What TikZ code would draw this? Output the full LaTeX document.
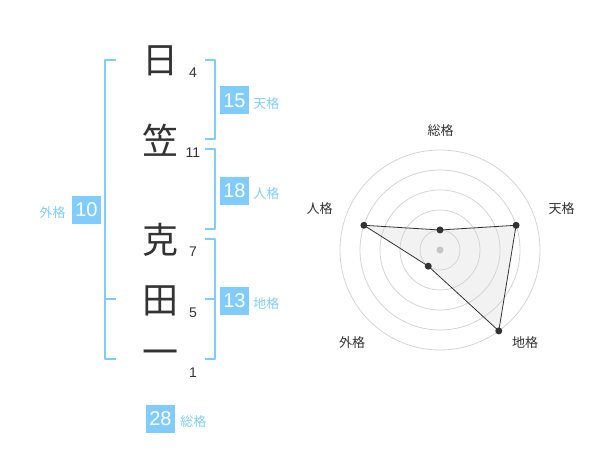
\documentclass[tikz,border=0pt]{standalone}
\usepackage{fontspec}
\setmainfont{Liberation Sans}
\newfontfamily\cjk{Noto Sans CJK JP}
\usetikzlibrary{positioning}
\definecolor{kakublue}{RGB}{128,204,255}
\definecolor{ink}{RGB}{51,51,51}
\definecolor{ringgray}{RGB}{212,212,212}
\definecolor{areagray}{RGB}{242,242,242}
\begin{document}
\begin{tikzpicture}[x=1pt, y=-1pt, line join=round,
	kanji/.style={font=\cjk\fontsize{36}{36}\selectfont, text=ink, inner sep=0pt},
	strokes/.style={font=\fontsize{14}{14}\selectfont, text=ink, inner sep=0pt},
	valbox/.style={fill=kakublue, text=white, minimum width=29pt, minimum height=28pt, inner sep=0pt, font=\fontsize{20}{20}\selectfont},
	kaku/.style={font=\cjk\fontsize{13}{13}\selectfont, text=kakublue, inner sep=0pt},
	axislabel/.style={font=\cjk\fontsize{13}{13}\selectfont, text=ink, inner sep=0pt},
	bracket/.style={draw=kakublue, line width=2pt}]
	\useasboundingbox (0,0) rectangle (600,470);
	% name and stroke counts
	\foreach \n/\c/\y/\s/\sy in {1/日/61/4/73,2/笠/140/11/153,3/克/240/7/252,4/田/301/5/313,5/一/358/1/373}{
		\node[kanji] (k\n) at (160,\y) {\c};
		\node[strokes] (s\n) at (193,\sy) {\s};
	}
	% brackets
	\draw[bracket] (116,60) -| (105,359) -- (116,359) (105,299) -- (116,299);
	\draw[bracket] (205,60) -| (215,139) -- (205,139);
	\draw[bracket] (205,149) -| (215,229) -- (205,229);
	\draw[bracket] (205,239) -| (215,359) -- (205,359) (215,299) -- (205,299);
	% values
	\node[valbox] (ten) at (234.5,100.5) {15};
	\node[kaku, right=4pt of ten, yshift=-3pt] (tenl) {天格};
	\node[valbox] (jin) at (234.5,191) {18};
	\node[kaku, right=4pt of jin, yshift=-3pt] (jinl) {人格};
	\node[valbox] (chi) at (234.5,301) {13};
	\node[kaku, right=4pt of chi, yshift=-3pt] (chil) {地格};
	\node[valbox] (gai) at (86.5,210) {10};
	\node[kaku, left=6pt of gai, yshift=-3pt] (gail) {外格};
	\node[valbox] (sou) at (160.5,419) {28};
	\node[kaku, right=5pt of sou, yshift=-3pt] (soul) {総格};
	% radar
	\begin{scope}[shift={(440,250)}]
		\foreach \n/\a/\r in {sou/90/20,ten/18/80,chi/-54/100,gai/-126/20,jin/162/80}
		\coordinate (p\n) at ({-\a}:\r);
		\fill[areagray] (psou)--(pten)--(pchi)--(pgai)--(pjin)--cycle;
		\foreach \r in {20,40,...,100}\draw[ringgray, line width=0.8pt] (0,0) circle (\r pt);
		\draw[ink, line width=0.8pt] (psou)--(pten)--(pchi)--(pgai)--(pjin)--cycle;
		\fill[ringgray!90!black!90] (0,0) circle (3.5pt);
		\foreach \n in {sou,ten,chi,gai,jin}\fill[ink] (p\n) circle (3.5pt);
		\node[axislabel] (lsou) at (0.5,-119) {総格};
		\node[axislabel] (lten) at (121.5,-41.5) {天格};
		\node[axislabel] (ljin) at (-120.5,-41.5) {人格};
		\node[axislabel] (lgai) at (-88,93) {外格};
		\node[axislabel] (lchi) at (85,93) {地格};
	\end{scope}
\end{tikzpicture}
\end{document}
